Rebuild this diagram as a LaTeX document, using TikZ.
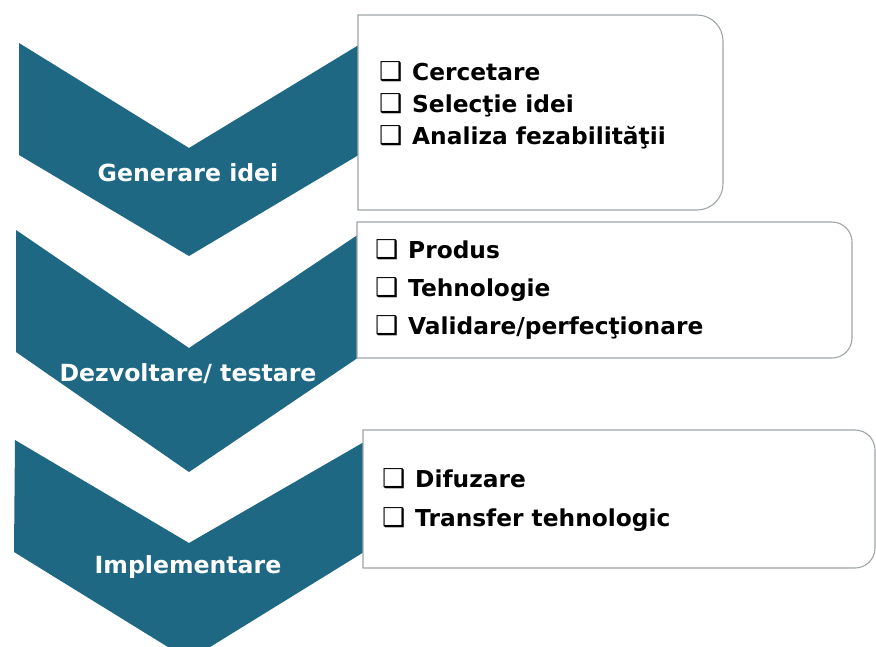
\documentclass[tikz,border=0pt]{standalone}
\usepackage{fontspec}
\setmainfont{DejaVu Sans}
\newfontfamily\symfont{DejaVu Sans}
\definecolor{chevteal}{RGB}{30,104,132}
\definecolor{boxline}{RGB}{160,165,168}
\begin{document}
\begin{tikzpicture}[x=1pt,y=-1pt,
  chev/.style={fill=chevteal},
  itembox/.style={draw=boxline,line width=1.1pt,fill=white},
  item/.style={anchor=base west,inner sep=0pt,text=black,font=\fontsize{23.3}{28}\selectfont\bfseries},
  lbl/.style={anchor=base,inner sep=0pt,text=white,font=\fontsize{23.6}{28}\selectfont\bfseries}]
\useasboundingbox (0,0) rectangle (876,646);
\clip (0,0) rectangle (876,646);
\fill[white] (0,0) rectangle (876,646);
\newcommand{\cb}{\makebox[33pt][l]{\symfont\bfseries\fontsize{26}{26}\selectfont ❑}}
% chevrons
\fill[chev] (19,43) -- (189,148) -- (362,43) -- (362,153) -- (189,256) -- (19,155) -- cycle;
\fill[chev] (16,230) -- (189,348) -- (362,232) -- (362,355) -- (189,472) -- (16,352) -- cycle;
\fill[chev] (15,440) -- (189,543) -- (364,442) -- (364,552) -- (189,660) -- (14,552) -- cycle;
% boxes
\draw[itembox] (358,210) -- (358,15) [rounded corners=26pt] -- (723,15) -- (723,210) [sharp corners] -- (358,210) -- cycle;
\draw[itembox] (357,358) -- (357,222) [rounded corners=20pt] -- (852,222) -- (852,358) [sharp corners] -- (357,358) -- cycle;
\draw[itembox] (363,568) -- (363,430) [rounded corners=20pt] -- (875,430) -- (875,568) [sharp corners] -- (363,568) -- cycle;
% labels
\node[lbl] (l1) at (188,181) {Generare idei};
\node[lbl] (l2) at (188,381) {Dezvoltare/ testare};
\node[lbl] (l3) at (188,573) {Implementare};
% items
\node[item] (a1) at (379,80) {\cb Cercetare};
\node[item] (a2) at (379,112) {\cb Selecţie idei};
\node[item] (a3) at (379,144) {\cb Analiza fezabilităţii};
\node[item] (b1) at (375,258) {\cb Produs};
\node[item] (b2) at (375,296) {\cb Tehnologie};
\node[item] (b3) at (375,334) {\cb Validare/perfecţionare};
\node[item] (c1) at (382,487) {\cb Difuzare};
\node[item] (c2) at (382,526) {\cb Transfer tehnologic};
\end{tikzpicture}
\end{document}
